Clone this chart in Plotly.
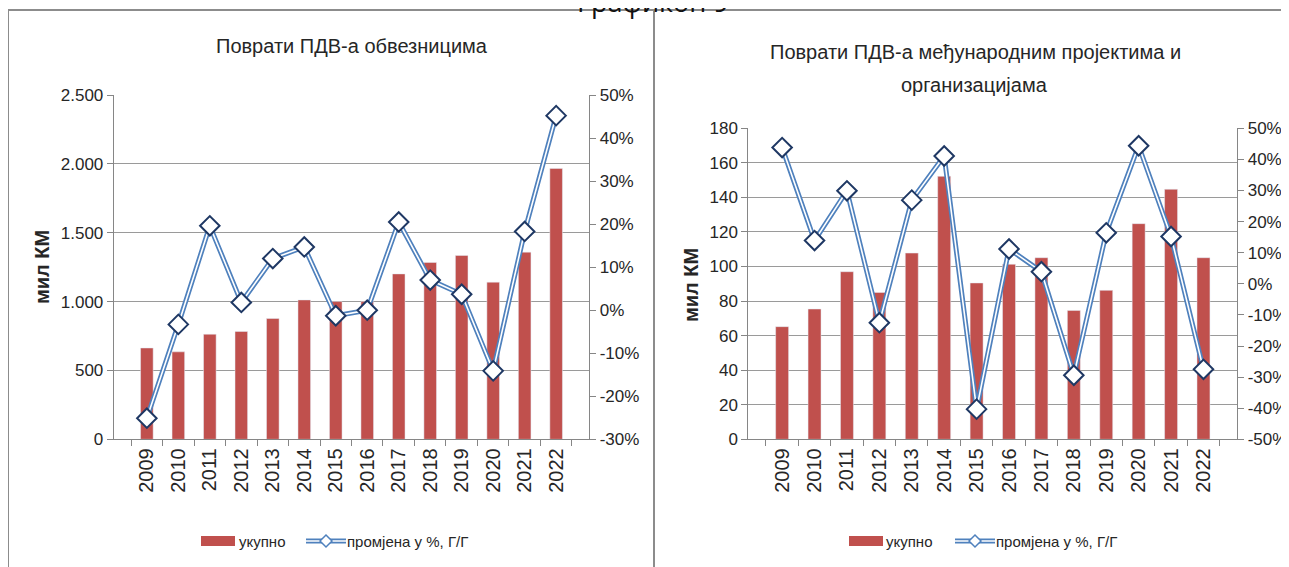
import plotly.graph_objects as go

# ---------------- data ----------------
years = ["2009", "2010", "2011", "2012", "2013", "2014", "2015",
         "2016", "2017", "2018", "2019", "2020", "2021", "2022"]

# Left chart: VAT refunds to taxpayers (mil KM) and y/y change
taxpayers_total = [663, 635, 763, 783, 877, 1012, 1000,
                   1000, 1201, 1284, 1335, 1141, 1359, 1967]
taxpayers_change = [-25.1, -3.3, 19.6, 1.8, 12.0, 14.7, -1.3,
                    0.0, 20.5, 7.0, 3.7, -14.1, 18.3, 45.2]

# Right chart: VAT refunds to international projects and organisations
intl_total = [65.2, 75.4, 97.0, 85.0, 107.8, 152.2, 90.5,
              101.3, 105.1, 74.6, 86.2, 124.8, 144.7, 105.1]
intl_change = [43.8, 13.9, 29.9, -12.5, 26.9, 41.1, -40.3,
               11.2, 3.9, -29.4, 16.4, 44.4, 15.2, -27.5]

left_y_ticks = [0, 500, 1000, 1500, 2000, 2500]
left_y_labels = ["0", "500", "1.000", "1.500", "2.000", "2.500"]
left_pct_ticks = [-30, -20, -10, 0, 10, 20, 30, 40, 50]
right_y_ticks = [0, 20, 40, 60, 80, 100, 120, 140, 160, 180]
right_pct_ticks = [-50, -40, -30, -20, -10, 0, 10, 20, 30, 40, 50]

suptitle = "Графикон 9"
title_left = "Поврати ПДВ-а обвезницима"
title_right_1 = "Поврати ПДВ-а међународним пројектима и"
title_right_2 = "организацијама"
y_title = "мил КМ"
legend_bar = "укупно"
legend_line = "промјена у %, Г/Г"

# ---------------- styling ----------------
SW, SH = 1289, 567          # screen size
OFF = 8                     # page body margin
W, H = SW - OFF, SH - OFF   # figure size
BAR = "#C0504D"
LINE = "#4F81BD"
MARK_EDGE = "#1F3864"
GRID = "#9A9A9A"
AXIS = "#868686"
TXT = "#262626"
SANS = "Liberation Sans, Arial, sans-serif"


def px(sx):
    return (sx - OFF) / W


def py(sy):
    return 1 - (sy - OFF) / H


def pct_labels(vals):
    return [f"{v}%" for v in vals]


fig = go.Figure()

panels = [
    dict(total=taxpayers_total, change=taxpayers_change, x="x", y="y", y2="y2"),
    dict(total=intl_total, change=intl_change, x="x2", y="y3", y2="y4"),
]

for p in panels:
    fig.add_trace(go.Bar(x=years, y=p["total"], marker_color=BAR, xaxis=p["x"],
                         yaxis=p["y"], showlegend=False, name=legend_bar))
    ch = [c / 100 for c in p["change"]]
    fig.add_trace(go.Scatter(x=years, y=ch, mode="lines", xaxis=p["x"], yaxis=p["y2"],
                             line=dict(color=LINE, width=5), showlegend=False,
                             name=legend_line))
    fig.add_trace(go.Scatter(x=years, y=ch, mode="lines", xaxis=p["x"], yaxis=p["y2"],
                             line=dict(color="white", width=1.6), showlegend=False,
                             hoverinfo="skip"))
    fig.add_trace(go.Scatter(x=years, y=ch, mode="markers", xaxis=p["x"], yaxis=p["y2"],
                             marker=dict(symbol="diamond", size=15, color="white",
                                         line=dict(color=MARK_EDGE, width=2)),
                             showlegend=False, name=legend_line))

tickfont = dict(family=SANS, size=17, color=TXT)
xtickfont = dict(family=SANS, size=20, color=TXT)

common_x = dict(type="category", tickangle=-90, tickfont=xtickfont, showline=True,
                linecolor=AXIS, linewidth=1, ticks="outside", tickson="boundaries",
                ticklen=6, tickcolor=AXIS, showgrid=False, fixedrange=True,
                automargin=False)

left_x = [px(113.7), px(589.3)]
right_x = [px(748.3), px(1237.3)]
ydom_left = [py(439.3), py(95)]
ydom_right = [py(439.3), py(128.3)]

fig.update_layout(
    width=W, height=H,
    margin=dict(l=0, r=0, t=0, b=0, autoexpand=False),
    paper_bgcolor="white", plot_bgcolor="white",
    bargap=0.6,
    showlegend=False,
    xaxis=dict(domain=left_x, anchor="y", **common_x),
    yaxis=dict(domain=ydom_left, anchor="x", range=[0, 2500], tickvals=left_y_ticks,
               ticktext=left_y_labels, tickfont=tickfont, showgrid=True,
               gridcolor=GRID, gridwidth=1, showline=True, linecolor=AXIS,
               ticks="outside", ticklen=6, tickcolor=AXIS, zeroline=False,
               automargin=False),
    yaxis2=dict(overlaying="y", side="right", anchor="x", range=[-0.3, 0.5],
                tickvals=[v / 100 for v in left_pct_ticks],
                ticktext=pct_labels(left_pct_ticks), tickfont=tickfont,
                showgrid=False, showline=True, linecolor=AXIS, ticks="outside",
                ticklen=6, tickcolor=AXIS, zeroline=False, automargin=False),
    xaxis2=dict(domain=right_x, anchor="y3", **common_x),
    yaxis3=dict(domain=ydom_right, anchor="x2", range=[0, 180], tickvals=right_y_ticks,
                tickfont=tickfont, showgrid=True, gridcolor=GRID, gridwidth=1,
                showline=True, linecolor=AXIS, ticks="outside", ticklen=6,
                tickcolor=AXIS, zeroline=False, automargin=False),
    yaxis4=dict(overlaying="y3", side="right", anchor="x2", range=[-0.5, 0.5],
                tickvals=[v / 100 for v in right_pct_ticks],
                ticktext=pct_labels(right_pct_ticks), tickfont=tickfont,
                showgrid=False, showline=True, linecolor=AXIS, ticks="outside",
                ticklen=6, tickcolor=AXIS, zeroline=False, automargin=False),
)

ann = []
shapes = []


def text(x, y, s, size, family=SANS, angle=0, color=TXT, bold=False):
    ann.append(dict(x=px(x), y=py(y), xref="paper", yref="paper", text=(f"<b>{s}</b>" if bold else s),
                    showarrow=False, xanchor="center", yanchor="middle", textangle=angle,
                    font=dict(family=family, size=size, color=color)))


# super title (cut at the top)
text(653, 1, suptitle, 27, family="Open Sans, Noto Sans, sans-serif", color="#111111")
# chart titles
text(352, 46, title_left, 20)
text(976, 52, title_right_1, 20)
text(975, 85, title_right_2, 20)
# y-axis titles
text(42, 267, y_title, 20, angle=-90, bold=True)
text(691, 285, y_title, 20, angle=-90, bold=True)

# frames
frame = dict(type="line", xref="paper", yref="paper", line=dict(color="#8C8C8C", width=2))
shapes.append(dict(frame, x0=px(OFF), x1=1, y0=py(10), y1=py(10)))
shapes.append(dict(frame, x0=px(8), x1=px(8), y0=py(10), y1=0))
shapes.append(dict(frame, x0=px(654), x1=px(654), y0=py(10), y1=0))


# manual legends
def legend(x_rect, x_text1, x_line, x_text2, y):
    shapes.append(dict(type="rect", xref="paper", yref="paper", x0=px(x_rect), x1=px(x_rect + 34),
                       y0=py(y + 5), y1=py(y - 5), fillcolor=BAR, line=dict(width=0)))
    ann.append(dict(x=px(x_text1), y=py(y), xref="paper", yref="paper", text=legend_bar,
                    showarrow=False, xanchor="left", yanchor="middle",
                    font=dict(family=SANS, size=15, color=TXT)))
    shapes.append(dict(type="line", xref="paper", yref="paper", x0=px(x_line), x1=px(x_line + 40),
                       y0=py(y), y1=py(y), line=dict(color=LINE, width=5)))
    shapes.append(dict(type="line", xref="paper", yref="paper", x0=px(x_line), x1=px(x_line + 40),
                       y0=py(y), y1=py(y), line=dict(color="white", width=1.6)))
    cx = x_line + 20
    shapes.append(dict(type="path", xref="paper", yref="paper",
                       path=f"M {px(cx - 6)} {py(y)} L {px(cx)} {py(y - 6)} L {px(cx + 6)} {py(y)} L {px(cx)} {py(y + 6)} Z",
                       fillcolor="white", line=dict(color=LINE, width=1.5)))
    ann.append(dict(x=px(x_text2), y=py(y), xref="paper", yref="paper", text=legend_line,
                    showarrow=False, xanchor="left", yanchor="middle",
                    font=dict(family=SANS, size=15, color=TXT)))


legend(201, 237, 306, 345, 541)
legend(849, 884, 955, 994, 541)

fig.update_layout(annotations=ann, shapes=shapes)

fig.write_html("out.html")
